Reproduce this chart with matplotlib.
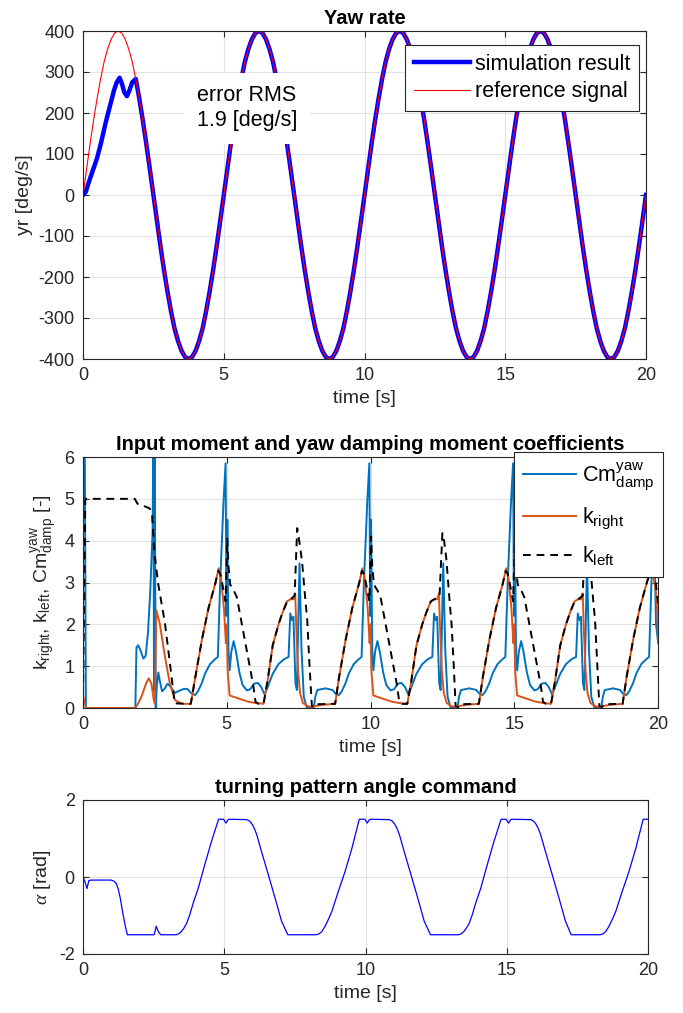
import numpy as np
import matplotlib.pyplot as plt

plt.rcParams['font.family'] = ['Liberation Sans', 'DejaVu Sans']
plt.rcParams['mathtext.fontset'] = 'custom'
plt.rcParams['mathtext.rm'] = 'Liberation Sans'
plt.rcParams['mathtext.it'] = 'Liberation Serif:italic'
plt.rcParams['mathtext.bf'] = 'Liberation Sans:bold'
plt.rcParams['mathtext.default'] = 'regular'
plt.rcParams['axes.unicode_minus'] = False  # MATLAB style hyphen minus

# ---------------- data ----------------
# yaw rate reference [deg/s], sampled every 0.125 s from 0 to 20 s
yaw_ref = [
    0, 63, 124, 182, 235, 283, 325, 356, 380, 395, 400, 395, 380, 356, 325, 283, 235, 182, 124, 63,
    0, -63, -124, -182, -235, -283, -325, -356, -380, -395, -400, -395, -380, -356, -325, -283, -235, -182, -124, -63,
    0, 63, 124, 182, 235, 283, 325, 356, 380, 395, 400, 395, 380, 356, 325, 283, 235, 182, 124, 63,
    0, -63, -124, -182, -235, -283, -325, -356, -380, -395, -400, -395, -380, -356, -325, -283, -235, -182, -124, -63,
    0, 63, 124, 182, 235, 283, 325, 356, 380, 395, 400, 395, 380, 356, 325, 283, 235, 182, 124, 63,
    0, -63, -124, -182, -235, -283, -325, -356, -380, -395, -400, -395, -380, -356, -325, -283, -235, -182, -124, -63,
    0, 63, 124, 182, 235, 283, 325, 356, 380, 395, 400, 395, 380, 356, 325, 283, 235, 182, 124, 63,
    0, -63, -124, -182, -235, -283, -325, -356, -380, -395, -400, -395, -380, -356, -325, -283, -235, -182, -124, -63,
    0]
yaw_t = np.linspace(0, 20, len(yaw_ref))

# simulation result before it locks onto the reference (t < 1.875 s)
sim_start_t = [0.0, 0.1, 0.2, 0.35, 0.5, 0.65, 0.8, 0.95, 1.1, 1.2, 1.3, 1.38, 1.47, 1.56, 1.65, 1.75]
sim_start_v = [0, 8, 30, 60, 90, 130, 175, 215, 255, 275, 286, 272, 250, 241, 255, 275]
lock_idx = 15  # sample index (t = 1.875 s) from which sim == ref

rms_text = 'error RMS\n1.9 [deg/s]'

# yaw damping moment coefficient Cm_damp^yaw  (t, value)
cm_pts = [
    (0.00, 6.6), (0.06, 6.6), (0.10, 0.00), (1.82, 0.00), (1.86, 1.45), (1.92, 1.50), (2.00, 1.38),
    (2.10, 1.18), (2.18, 1.25), (2.26, 1.80), (2.34, 2.80), (2.42, 4.20), (2.45, 6.6), (2.47, 0.40),
    (2.49, 6.6), (2.53, 0.00), (2.57, 0.55), (2.62, 0.85), (2.68, 0.62), (2.75, 0.40), (2.84, 0.46),
    (2.94, 0.58), (3.06, 0.50), (3.20, 0.36), (3.34, 0.41), (3.48, 0.45), (3.62, 0.46), (3.76, 0.36),
    (3.90, 0.31),
    (4.00, 0.40), (4.13, 0.59), (4.25, 0.83), (4.42, 1.05), (4.58, 1.16), (4.69, 1.22), (4.77, 2.98),
    (4.89, 4.97), (4.96, 5.85), (4.99, 2.20), (5.02, 4.50), (5.06, 1.40), (5.10, 0.90), (5.16, 1.35),
    (5.24, 1.60), (5.32, 1.35), (5.44, 0.85), (5.55, 0.55), (5.70, 0.42), (5.82, 0.45), (5.95, 0.58),
    (6.08, 0.60), (6.20, 0.50), (6.32, 0.32), (6.45, 0.55), (6.60, 0.82), (6.80, 1.05), (7.00, 1.17),
    (7.15, 1.22), (7.21, 2.26), (7.27, 2.10), (7.32, 2.18), (7.39, 0.59), (7.44, 0.43), (7.53, 3.46),
    (7.60, 1.39), (7.68, 0.27), (7.78, 0.02), (8.03, 0.02), (8.08, 0.27), (8.15, 0.43), (8.44, 0.47),
    (8.68, 0.43), (8.80, 0.33), (8.90, 0.31),
    (9.00, 0.40), (9.13, 0.59), (9.25, 0.83), (9.42, 1.05), (9.58, 1.16), (9.69, 1.22), (9.77, 2.98),
    (9.89, 4.97), (9.96, 5.85), (9.99, 2.20), (10.02, 4.50), (10.06, 1.40), (10.10, 0.90), (10.16, 1.35),
    (10.24, 1.60), (10.32, 1.35), (10.44, 0.85), (10.55, 0.55), (10.70, 0.42), (10.82, 0.45), (10.95, 0.58),
    (11.08, 0.60), (11.20, 0.50), (11.32, 0.32), (11.45, 0.55), (11.60, 0.82), (11.80, 1.05), (12.00, 1.17),
    (12.15, 1.22), (12.21, 2.26), (12.27, 2.10), (12.32, 2.18), (12.39, 0.59), (12.44, 0.43), (12.53, 3.46),
    (12.60, 1.39), (12.68, 0.27), (12.78, 0.02), (13.03, 0.02), (13.08, 0.27), (13.15, 0.43), (13.44, 0.47),
    (13.68, 0.43), (13.80, 0.33), (13.90, 0.31),
    (14.00, 0.40), (14.13, 0.59), (14.25, 0.83), (14.42, 1.05), (14.58, 1.16), (14.69, 1.22), (14.77, 2.98),
    (14.89, 4.97), (14.96, 5.85), (14.99, 2.20), (15.02, 4.50), (15.06, 1.40), (15.10, 0.90), (15.16, 1.35),
    (15.24, 1.60), (15.32, 1.35), (15.44, 0.85), (15.55, 0.55), (15.70, 0.42), (15.82, 0.45), (15.95, 0.58),
    (16.08, 0.60), (16.20, 0.50), (16.32, 0.32), (16.45, 0.55), (16.60, 0.82), (16.80, 1.05), (17.00, 1.17),
    (17.15, 1.22), (17.21, 2.26), (17.27, 2.10), (17.32, 2.18), (17.39, 0.59), (17.44, 0.43), (17.53, 3.46),
    (17.60, 1.39), (17.68, 0.27), (17.78, 0.02), (18.03, 0.02), (18.08, 0.27), (18.15, 0.43), (18.44, 0.47),
    (18.68, 0.43), (18.80, 0.33), (18.90, 0.31),
    (19.00, 0.40), (19.13, 0.59), (19.25, 0.83), (19.42, 1.05), (19.58, 1.16), (19.69, 1.22), (19.77, 2.98),
    (19.86, 4.50), (19.93, 2.00), (20.00, 1.60)]

# k_right  (t, value)
kr_pts = [
    (0.00, 0.30), (0.10, 0.00), (1.82, 0.00), (1.95, 0.15), (2.05, 0.30), (2.20, 0.60), (2.29, 0.71),
    (2.38, 0.58), (2.46, 0.20), (2.50, 0.10), (2.55, 2.34), (2.67, 2.02), (2.85, 1.23), (3.02, 0.59),
    (3.20, 0.19), (3.43, 0.10), (3.75, 0.10),
    (3.91, 0.75), (4.14, 1.65), (4.37, 2.40), (4.60, 2.97), (4.72, 3.34), (4.80, 3.10), (4.90, 2.40),
    (4.97, 1.55), (5.00, 2.00), (5.03, 0.90), (5.10, 0.30), (5.40, 0.23), (5.75, 0.15), (6.00, 0.12),
    (6.28, 0.10), (6.42, 0.65), (6.60, 1.50), (6.80, 2.00), (6.95, 2.30), (7.10, 2.55), (7.22, 2.60),
    (7.32, 2.60), (7.38, 2.74), (7.42, 1.90), (7.48, 0.90), (7.55, 0.35), (7.65, 0.12), (7.80, 0.05),
    (7.95, 0.02), (8.10, 0.05), (8.40, 0.08), (8.77, 0.10),
    (8.91, 0.75), (9.14, 1.65), (9.37, 2.40), (9.60, 2.97), (9.72, 3.34), (9.80, 3.10), (9.90, 2.40),
    (9.97, 1.55), (10.00, 2.00), (10.03, 0.90), (10.10, 0.30), (10.40, 0.23), (10.75, 0.15), (11.00, 0.12),
    (11.28, 0.10), (11.42, 0.65), (11.60, 1.50), (11.80, 2.00), (11.95, 2.30), (12.10, 2.55), (12.22, 2.60),
    (12.32, 2.60), (12.38, 2.74), (12.42, 1.90), (12.48, 0.90), (12.55, 0.35), (12.65, 0.12), (12.80, 0.05),
    (12.95, 0.02), (13.10, 0.05), (13.40, 0.08), (13.77, 0.10),
    (13.91, 0.75), (14.14, 1.65), (14.37, 2.40), (14.60, 2.97), (14.72, 3.34), (14.80, 3.10), (14.90, 2.40),
    (14.97, 1.55), (15.00, 2.00), (15.03, 0.90), (15.10, 0.30), (15.40, 0.23), (15.75, 0.15), (16.00, 0.12),
    (16.28, 0.10), (16.42, 0.65), (16.60, 1.50), (16.80, 2.00), (16.95, 2.30), (17.10, 2.55), (17.22, 2.60),
    (17.32, 2.60), (17.38, 2.74), (17.42, 1.90), (17.48, 0.90), (17.55, 0.35), (17.65, 0.12), (17.80, 0.05),
    (17.95, 0.02), (18.10, 0.05), (18.40, 0.08), (18.77, 0.10),
    (18.91, 0.75), (19.14, 1.65), (19.37, 2.40), (19.60, 2.97), (19.72, 3.30), (19.82, 3.25), (19.92, 2.80),
    (19.98, 2.30), (20.00, 1.55)]

# k_left  (t, value)
kl_pts = [
    (0.00, 0.30), (0.08, 5.00), (1.80, 5.00), (1.90, 4.88), (2.00, 4.85), (2.15, 4.82), (2.32, 4.77),
    (2.40, 4.65), (2.45, 4.10), (2.48, 3.75), (2.61, 2.99), (2.85, 2.03), (3.08, 0.75), (3.19, 0.11),
    (3.75, 0.10),
    (3.91, 0.75), (4.14, 1.65), (4.37, 2.40), (4.60, 2.97), (4.70, 3.28), (4.78, 3.20), (4.88, 2.85),
    (4.96, 2.55), (5.02, 4.05), (5.06, 3.40), (5.12, 2.95), (5.25, 2.80), (5.35, 2.65), (5.50, 2.10),
    (5.65, 1.55), (5.80, 1.00), (5.92, 0.55), (6.00, 0.15), (6.10, 0.10), (6.28, 0.10), (6.42, 0.65),
    (6.60, 1.50), (6.80, 2.00), (6.95, 2.30), (7.10, 2.55), (7.22, 2.60), (7.36, 2.68), (7.45, 4.30),
    (7.52, 4.00), (7.62, 3.50), (7.72, 2.70), (7.80, 2.10), (7.88, 1.00), (7.96, 0.05), (8.05, 0.02),
    (8.12, 0.09), (8.77, 0.10),
    (8.91, 0.75), (9.14, 1.65), (9.37, 2.40), (9.60, 2.97), (9.70, 3.28), (9.78, 3.20), (9.88, 2.85),
    (9.96, 2.55), (10.02, 4.10), (10.06, 3.40), (10.12, 2.95), (10.25, 2.80), (10.35, 2.65), (10.50, 2.10),
    (10.65, 1.55), (10.80, 1.00), (10.92, 0.55), (11.00, 0.15), (11.10, 0.10), (11.28, 0.10), (11.42, 0.65),
    (11.60, 1.50), (11.80, 2.00), (11.95, 2.30), (12.10, 2.55), (12.22, 2.60), (12.40, 2.66), (12.50, 4.18),
    (12.56, 4.00), (12.64, 3.55), (12.74, 2.65), (12.82, 2.00), (12.90, 0.95), (12.96, 0.05), (13.05, 0.02),
    (13.12, 0.09), (13.77, 0.10),
    (13.91, 0.75), (14.14, 1.65), (14.37, 2.40), (14.60, 2.97), (14.70, 3.28), (14.78, 3.20), (14.88, 2.85),
    (14.96, 2.55), (15.02, 4.05), (15.06, 3.40), (15.12, 2.95), (15.25, 2.80), (15.35, 2.65), (15.50, 2.10),
    (15.65, 1.55), (15.80, 1.00), (15.92, 0.55), (16.00, 0.15), (16.10, 0.10), (16.28, 0.10), (16.42, 0.65),
    (16.60, 1.50), (16.80, 2.00), (16.95, 2.30), (17.10, 2.55), (17.22, 2.60), (17.38, 2.68), (17.47, 4.25),
    (17.54, 4.00), (17.63, 3.50), (17.73, 2.70), (17.81, 2.10), (17.89, 1.00), (17.96, 0.05), (18.05, 0.02),
    (18.12, 0.09), (18.77, 0.10),
    (18.91, 0.75), (19.14, 1.65), (19.37, 2.40), (19.60, 2.97), (19.75, 3.28), (19.85, 3.20), (19.93, 2.95),
    (20.00, 2.50)]

# turning pattern angle command alpha [rad]  (t, value)
alpha_pts = [
    (0.00, 0.00), (0.07, -0.12), (0.14, -0.30), (0.21, -0.09), (0.30, -0.08), (1.00, -0.08), (1.10, -0.11),
    (1.18, -0.17), (1.25, -0.32), (1.32, -0.55), (1.42, -0.98), (1.50, -1.28), (1.57, -1.50), (2.52, -1.50),
    (2.59, -1.28), (2.67, -1.42), (2.75, -1.50), (3.30, -1.50), (3.40, -1.47), (3.49, -1.41), (3.58, -1.32),
    (3.67, -1.20), (3.78, -0.98), (3.90, -0.68), (4.08, -0.29), (4.31, 0.32), (4.55, 0.93), (4.80, 1.50),
    (4.98, 1.50), (5.06, 1.40), (5.14, 1.49), (5.20, 1.50), (5.80, 1.49), (5.90, 1.45), (5.98, 1.38),
    (6.06, 1.27), (6.15, 1.10), (6.32, 0.66), (6.56, 0.06), (6.80, -0.55), (7.03, -1.15), (7.25, -1.50),
    (8.25, -1.50), (8.35, -1.48), (8.45, -1.42), (8.57, -1.28), (8.70, -1.08), (8.81, -0.89), (9.04, -0.37),
    (9.28, 0.15), (9.52, 0.75), (9.78, 1.50), (9.98, 1.50), (10.06, 1.40), (10.14, 1.49), (10.20, 1.50),
    (10.85, 1.49), (10.95, 1.45), (11.03, 1.38), (11.11, 1.27), (11.20, 1.10), (11.37, 0.66), (11.61, 0.06),
    (11.85, -0.55), (12.08, -1.15), (12.30, -1.50), (13.30, -1.50), (13.40, -1.47), (13.49, -1.41),
    (13.58, -1.32), (13.67, -1.20), (13.78, -0.98), (13.90, -0.68), (14.08, -0.29), (14.31, 0.32),
    (14.55, 0.93), (14.80, 1.50), (14.98, 1.50), (15.06, 1.40), (15.14, 1.49), (15.20, 1.50), (15.85, 1.49),
    (15.95, 1.45), (16.03, 1.38), (16.11, 1.27), (16.20, 1.10), (16.37, 0.66), (16.61, 0.06), (16.85, -0.55),
    (17.08, -1.15), (17.28, -1.50), (18.30, -1.50), (18.40, -1.48), (18.50, -1.42), (18.62, -1.28),
    (18.75, -1.08), (18.86, -0.89), (19.09, -0.37), (19.33, 0.15), (19.57, 0.75), (19.83, 1.50), (20.00, 1.50)]

# ---------------- helpers ----------------
DARK = '#262626'


def style_axes(ax, ylim, yticks):
    ax.set_xlim(0, 20)
    ax.set_ylim(*ylim)
    ax.set_xticks([0, 5, 10, 15, 20])
    ax.set_yticks(yticks)
    ax.grid(True, color='#e2e2e2', lw=0.8)
    ax.set_axisbelow(True)
    ax.tick_params(direction='in', top=True, right=True, length=4, width=0.8,
                   colors=DARK, labelsize=13, pad=6)
    for s in ax.spines.values():
        s.set_color(DARK)
        s.set_linewidth(0.8)


fig = plt.figure(figsize=(6.83, 10.13), dpi=100)
W, H = 683, 1013
ax1 = fig.add_axes([83 / W, 1 - 359 / H, 563 / W, 328 / H])
ax2 = fig.add_axes([83 / W, 1 - 708 / H, 575 / W, 251 / H])
ax3 = fig.add_axes([83 / W, 1 - 954 / H, 565 / W, 154 / H])

# ---- yaw rate ----
sim_t = list(sim_start_t) + list(yaw_t[lock_idx:])
sim_v = list(sim_start_v) + list(yaw_ref[lock_idx:])
ax1.plot(sim_t, sim_v, color='#0000ff', lw=3.2, label='simulation result')
ax1.plot(yaw_t, yaw_ref, color='#ff0000', lw=0.8, label='reference signal')
style_axes(ax1, (-400, 400), range(-400, 401, 100))
ax1.set_title('Yaw rate', fontsize=14.5, fontweight='bold', pad=5)
ax1.set_xlabel('time [s]', fontsize=14, color=DARK)
ax1.set_ylabel('yr [deg/s]', fontsize=14, color=DARK)
ax1.text(5.83, 211, rms_text, fontsize=15.5, ha='center', va='center', color='black',
         linespacing=1.25, zorder=5,
         bbox=dict(facecolor='white', edgecolor='none', boxstyle='square,pad=0.6'))
leg1 = ax1.legend(loc='upper right', bbox_to_anchor=(0.9876, 0.957), borderaxespad=0,
                  fontsize=15.5, handlelength=2.6, handletextpad=0.25, labelspacing=0.3,
                  borderpad=0.4, fancybox=False, framealpha=1, edgecolor=DARK)
leg1.get_frame().set_linewidth(0.8)

# ---- moment coefficients ----
cm_t, cm_v = zip(*cm_pts)
kr_t, kr_v = zip(*kr_pts)
kl_t, kl_v = zip(*kl_pts)
ax2.plot(cm_t, cm_v, color='#0072BD', lw=1.4, label=r'$Cm_{damp}^{yaw}$')
ax2.plot(kr_t, kr_v, color='#D95319', lw=1.4, label=r'$k_{right}$')
ax2.plot(kl_t, kl_v, color='black', lw=1.4, ls=(0, (4, 3)), label=r'$k_{left}$')
style_axes(ax2, (0, 6), range(0, 7))
ax2.set_title('Input moment and yaw damping moment coefficients', fontsize=14.5,
              fontweight='bold', pad=5)
ax2.set_xlabel('time [s]', fontsize=14, color=DARK)
ax2.set_ylabel(r'$k_{right}$, $k_{left}$, $Cm_{damp}^{yaw}$ [-]', fontsize=14, color=DARK)
leg2 = ax2.legend(loc='upper right', bbox_to_anchor=(1.0087, 1.02), borderaxespad=0,
                  fontsize=15.5, handlelength=2.5, handletextpad=0.25, labelspacing=0.6,
                  borderpad=0.4, fancybox=False, framealpha=1, edgecolor=DARK)
leg2.get_frame().set_linewidth(0.8)
leg2.set_zorder(10)

# ---- turning pattern angle ----
al_t, al_v = zip(*alpha_pts)
ax3.plot(al_t, al_v, color='#0000ff', lw=0.9)
style_axes(ax3, (-2, 2), [-2, 0, 2])
ax3.set_title('turning pattern angle command', fontsize=14.5, fontweight='bold', pad=5)
ax3.set_xlabel('time [s]', fontsize=14, color=DARK)
ax3.set_ylabel(r'$\mathit{\alpha}$ [rad]', fontsize=14, color=DARK)

fig.savefig('out.png', dpi=100)
